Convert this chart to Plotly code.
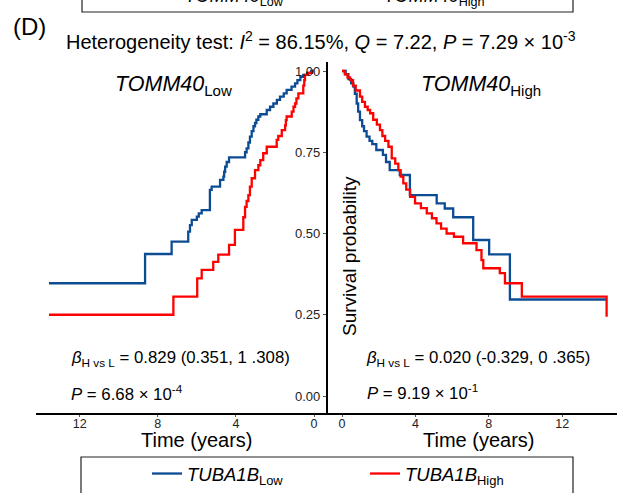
import plotly.graph_objects as go

W, H = 617, 493
FONT = "Liberation Sans, Arial, sans-serif"
BLUE = "#0C4C92"
RED = "#FF0000"

# ---------------- data ----------------
# Left panel: TOMM40 Low ; x axis reversed (years)
low_panel_tuba_low_time = [0, 0.15, 0.35, 0.55, 0.7, 0.85, 0.97, 1.15, 1.4, 1.55, 1.74, 1.9, 2.08, 2.25,
                           2.42, 2.75, 2.85, 2.95, 3.02, 3.1, 3.19, 3.28, 3.36, 3.45, 3.53, 4.35, 4.47,
                           4.55, 4.6, 4.64, 4.81, 5.24, 5.33, 5.75, 5.9, 6.0, 6.26, 6.35, 6.44, 7.29,
                           8.65, 13.57]
low_panel_tuba_low_surv = [1.0, 0.994, 0.988, 0.982, 0.972, 0.962, 0.952, 0.942, 0.931, 0.921, 0.911, 0.90,
                           0.89, 0.88, 0.867, 0.86, 0.85, 0.84, 0.83, 0.815, 0.798, 0.78, 0.762, 0.75,
                           0.734, 0.72, 0.706, 0.69, 0.675, 0.665, 0.644, 0.634, 0.572, 0.562, 0.552,
                           0.542, 0.526, 0.506, 0.475, 0.437, 0.347, 0.347]
low_panel_tuba_high_time = [0, 0.1, 0.29, 0.46, 0.5, 0.55, 0.8, 0.9, 0.97, 1.05, 1.14, 1.4, 1.44, 1.48,
                            1.65, 1.83, 1.91, 2.42, 2.6, 2.75, 2.85, 3.02, 3.19, 3.28, 3.36, 3.45, 3.53,
                            3.62, 4.05, 4.35, 4.9, 5.16, 5.75, 5.98, 7.2, 13.57]
low_panel_tuba_high_surv = [1.0, 0.994, 0.988, 0.972, 0.955, 0.931, 0.916, 0.90, 0.89, 0.875, 0.86, 0.849,
                            0.833, 0.818, 0.80, 0.788, 0.767, 0.747, 0.726, 0.71, 0.695, 0.67, 0.644,
                            0.618, 0.60, 0.582, 0.55, 0.511, 0.465, 0.435, 0.413, 0.388, 0.362, 0.306,
                            0.25, 0.25]

# Right panel: TOMM40 High
high_panel_tuba_low_time = [0, 0.2, 0.35, 0.5, 0.62, 0.7, 0.8, 0.88, 0.98, 1.1, 1.2, 1.34, 1.5, 1.65,
                            1.87, 2.23, 2.4, 2.6, 3.15, 3.7, 5.16, 5.6, 6.06, 7.15, 8.02, 9.15, 14.44]
high_panel_tuba_low_surv = [1.0, 0.99, 0.975, 0.962, 0.952, 0.93, 0.90, 0.875, 0.849, 0.83, 0.815, 0.798,
                            0.785, 0.775, 0.757, 0.742, 0.72, 0.695, 0.68, 0.618, 0.593, 0.577, 0.55,
                            0.48, 0.436, 0.297, 0.297]
high_panel_tuba_high_time = [0, 0.15, 0.3, 0.44, 0.6, 0.75, 0.98, 1.1, 1.25, 1.4, 1.53, 1.7, 1.9, 2.07,
                             2.2, 2.35, 2.53, 2.71, 2.9, 3.07, 3.2, 3.34, 3.5, 3.71, 3.98, 4.3, 4.62, 4.9,
                             5.15, 5.4, 5.7, 6.1, 6.6, 7.33, 7.6, 7.7, 8.6, 8.88, 9.8, 14.42]
high_panel_tuba_high_surv = [1.0, 0.99, 0.98, 0.972, 0.955, 0.94, 0.921, 0.905, 0.89, 0.88, 0.87, 0.85,
                             0.835, 0.818, 0.80, 0.785, 0.767, 0.731, 0.715, 0.695, 0.675, 0.654, 0.635,
                             0.613, 0.593, 0.578, 0.562, 0.547, 0.531, 0.515, 0.50, 0.49, 0.47, 0.449,
                             0.418, 0.393, 0.378, 0.347, 0.306, 0.244]

x_ticks = [0, 4, 8, 12]
y_ticks = [0, 0.25, 0.5, 0.75, 1.0]
y_tick_labels = ["0.00", "0.25", "0.50", "0.75", "1.00"]

legend_low = "<i>TUBA1B</i><sub>Low</sub>"
legend_high = "<i>TUBA1B</i><sub>High</sub>"


# ---------------- helpers (pixel -> paper) ----------------
def px(x):
    return x / W


def py(y):
    return 1 - y / H


fig = go.Figure()

fig.add_trace(go.Scatter(x=low_panel_tuba_low_time, y=low_panel_tuba_low_surv, mode="lines",
                         line=dict(color=BLUE, width=2.3, shape="hv"), name=legend_low,
                         legend="legend", xaxis="x", yaxis="y2"))
fig.add_trace(go.Scatter(x=low_panel_tuba_high_time, y=low_panel_tuba_high_surv, mode="lines",
                         line=dict(color=RED, width=2.3, shape="hv"), name=legend_high,
                         legend="legend2", xaxis="x", yaxis="y2"))
fig.add_trace(go.Scatter(x=high_panel_tuba_low_time, y=high_panel_tuba_low_surv, mode="lines",
                         line=dict(color=BLUE, width=2.3, shape="hv"), name=legend_low,
                         showlegend=False, xaxis="x2", yaxis="y"))
fig.add_trace(go.Scatter(x=high_panel_tuba_high_time, y=high_panel_tuba_high_surv, mode="lines",
                         line=dict(color=RED, width=2.3, shape="hv"), name=legend_high,
                         showlegend=False, xaxis="x2", yaxis="y"))

# axis geometry (pixels)
X_LEFT, X_MID, X_RIGHT = 36, 328, 617
Y_TOP, Y_BOT = 62, 413
L_ZERO, L_PER = 314, 19.53   # left panel: pixel of t=0, px per year
R_ZERO, R_PER = 342, 18.35   # right panel
Y_ZERO, Y_PER = 396, 325

left_range = [(L_ZERO - X_LEFT) / L_PER, (L_ZERO - X_MID) / L_PER]
right_range = [(X_MID - R_ZERO) / R_PER, (X_RIGHT - R_ZERO) / R_PER]
y_range = [(Y_ZERO - Y_BOT) / Y_PER, (Y_ZERO - Y_TOP) / Y_PER]

xtickfont = dict(family=FONT, size=12.5, color="#222")
ytickfont = dict(family=FONT, size=13, color="#222")
xcommon = dict(showline=True, linecolor="black", linewidth=2.2, ticks="outside", ticklen=2,
               tickwidth=1, tickcolor="#555", tickvals=x_ticks, showgrid=False, zeroline=False,
               tickfont=xtickfont, ticklabelstandoff=-4, fixedrange=True)

LEGEND_FONT = dict(family=FONT, size=18.5, color="black")

fig.update_layout(
    width=W, height=H, margin=dict(l=0, r=0, t=0, b=0),
    paper_bgcolor="white", plot_bgcolor="white",
    xaxis=dict(domain=[px(X_LEFT), px(X_MID)], range=left_range, anchor="y2", **xcommon),
    xaxis2=dict(domain=[px(X_MID), px(X_RIGHT)], range=right_range, anchor="y", **xcommon),
    yaxis=dict(domain=[py(Y_BOT), py(Y_TOP)], range=y_range, anchor="x2", side="left",
               showline=True, linecolor="black", linewidth=2.2, ticks="outside", ticklen=3,
               tickcolor="#555", tickvals=y_ticks, ticktext=y_tick_labels, showgrid=False,
               zeroline=False, tickfont=ytickfont),
    yaxis2=dict(domain=[py(Y_BOT), py(Y_TOP)], range=y_range, anchor="x", matches="y",
                visible=False),
    legend=dict(x=px(147), y=py(474), xanchor="left", yanchor="middle", orientation="h",
                bgcolor="rgba(0,0,0,0)", borderwidth=0, font=LEGEND_FONT),
    legend2=dict(x=px(365), y=py(474), xanchor="left", yanchor="middle", orientation="h",
                 bgcolor="rgba(0,0,0,0)", borderwidth=0, font=LEGEND_FONT),
    showlegend=True,
)

# boxes (cropped legend of the panel above, and the legend frame)
fig.add_shape(type="rect", xref="paper", yref="paper", x0=px(82), x1=px(573), y0=py(-30), y1=py(12),
              line=dict(color="#222", width=1.2))
fig.add_shape(type="rect", xref="paper", yref="paper", x0=px(81), x1=px(573), y0=py(457), y1=py(520),
              line=dict(color="#222", width=1.2))


def note(text, x, y, size, xanchor="center", angle=0):
    fig.add_annotation(text=text, x=px(x), y=py(y), xref="paper", yref="paper", showarrow=False,
                       xanchor=xanchor, yanchor="middle", textangle=angle,
                       font=dict(family=FONT, size=size, color="black"))


note("<i>TOMM40</i><sub>Low</sub>", 234, -3, 18)
note("<i>TOMM40</i><sub>High</sub>", 434, -3, 18)
note("(D)", 11, 27, 24, xanchor="left")
note("Heterogeneity test: <i>I</i><sup>2</sup> = 86.15%, <i>Q</i> = 7.22, <i>P</i> = 7.29 × 10<sup>-3</sup>",
     321, 40, 20)
note("<i>TOMM40</i><sub>Low</sub>", 173, 86, 21.5)
note("<i>TOMM40</i><sub>High</sub>", 481, 86, 21.5)
note("Survival probability", 349, 256, 19, angle=-90)
note("<i>β</i><sub>H vs L</sub> = 0.829 (0.351, 1 .308)", 69, 358, 16.8, xanchor="left")
note("<i>P</i> = 6.68 × 10<sup>-4</sup>", 69, 393, 16.8, xanchor="left")
note("<i>β</i><sub>H vs L</sub> = 0.020 (-0.329, 0 .365)", 364, 358, 16.8, xanchor="left")
note("<i>P</i> = 9.19 × 10<sup>-1</sup>", 365, 392, 16.8, xanchor="left")
note("Time (years)", 196, 440, 20)
note("Time (years)", 478, 440, 20)

fig.write_html("out.html")
